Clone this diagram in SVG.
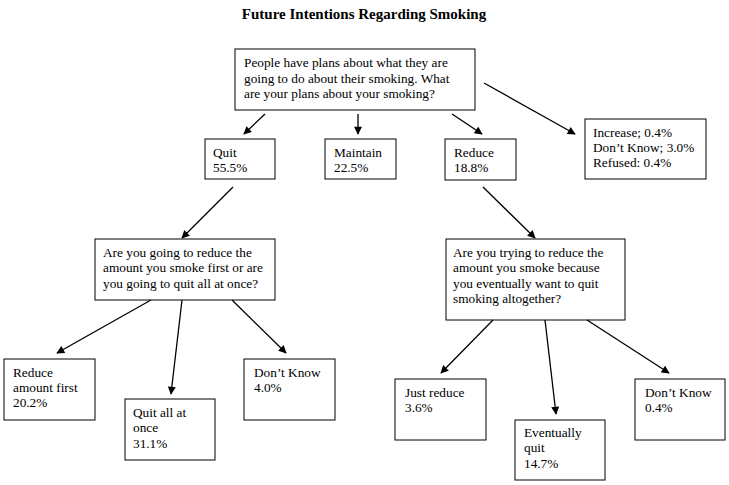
<svg xmlns="http://www.w3.org/2000/svg" width="729" height="485" viewBox="0 0 729 485">
<style>
text{font-family:"Liberation Serif",serif;font-size:13.3px;fill:#000}
.b{fill:#fff;stroke:#000;stroke-width:1}
.c line{stroke:#000;stroke-width:1.3;marker-end:url(#a)}
</style>
<defs><marker id="a" viewBox="0 0 10 10" refX="9" refY="5" markerWidth="9" markerHeight="8" orient="auto" markerUnits="userSpaceOnUse"><path d="M0,0L10,5L0,10z"/></marker></defs>
<rect width="729" height="485" fill="#fff"/>
<text x="364" y="19" text-anchor="middle" style="font-weight:bold;font-size:15px">Future Intentions Regarding Smoking</text>
<g id="q1"><rect class="b" x="235" y="49" width="240" height="61"/><text x="244" y="67">People have plans about what they are</text><text x="244" y="83">going to do about their smoking.  What</text><text x="244" y="98">are your plans about your smoking?</text></g>
<g id="quit"><rect class="b" x="205" y="139" width="70" height="40"/><text x="213" y="157">Quit</text><text x="213" y="172">55.5%</text></g>
<g id="maintain"><rect class="b" x="325" y="139" width="71" height="40"/><text x="334" y="157">Maintain</text><text x="334" y="172">22.5%</text></g>
<g id="reduce"><rect class="b" x="445" y="139" width="71" height="41"/><text x="454" y="157">Reduce</text><text x="454" y="172">18.8%</text></g>
<g id="other"><rect class="b" x="585" y="119" width="121" height="60"/><text x="593" y="137">Increase; 0.4%</text><text x="593" y="152">Don’t Know; 3.0%</text><text x="593" y="167">Refused: 0.4%</text></g>
<g id="q2"><rect class="b" x="95" y="239" width="180" height="61"/><text x="103" y="257">Are you going to reduce the</text><text x="103" y="272">amount you smoke first or are</text><text x="103" y="288">you going to quit all at once?</text></g>
<g id="q3"><rect class="b" x="446" y="239" width="179" height="81"/><text x="453" y="257">Are you trying to reduce the</text><text x="453" y="272">amount you smoke because</text><text x="453" y="288">you eventually want to quit</text><text x="453" y="303">smoking altogether?</text></g>
<g id="raf"><rect class="b" x="4" y="359" width="91" height="61"/><text x="13" y="377">Reduce</text><text x="13" y="392">amount first</text><text x="13" y="407">20.2%</text></g>
<g id="qao"><rect class="b" x="125" y="399" width="90" height="61"/><text x="133" y="417">Quit all at</text><text x="133" y="432">once</text><text x="133" y="448">31.1%</text></g>
<g id="dk1"><rect class="b" x="244" y="359" width="91" height="61"/><text x="254" y="377">Don’t Know</text><text x="254" y="392">4.0%</text></g>
<g id="jr"><rect class="b" x="395" y="379" width="91" height="61"/><text x="405" y="397">Just reduce</text><text x="405" y="412">3.6%</text></g>
<g id="eq"><rect class="b" x="515" y="420" width="90" height="60"/><text x="524" y="437">Eventually</text><text x="524" y="452">quit</text><text x="524" y="468">14.7%</text></g>
<g id="dk2"><rect class="b" x="635" y="379" width="90" height="61"/><text x="645" y="397">Don’t Know</text><text x="645" y="412">0.4%</text></g>
<g class="c" id="connectors">
<line x1="265" y1="114" x2="244" y2="134"/>
<line x1="358" y1="114" x2="358" y2="134"/>
<line x1="452" y1="114" x2="482" y2="134"/>
<line x1="484" y1="83" x2="575" y2="134"/>
<line x1="233" y1="187" x2="182" y2="238"/>
<line x1="483" y1="187" x2="535" y2="238"/>
<line x1="151" y1="300" x2="57" y2="353"/>
<line x1="182" y1="300" x2="171" y2="394"/>
<line x1="232" y1="300" x2="286" y2="353"/>
<line x1="493" y1="320" x2="441" y2="373"/>
<line x1="545" y1="320" x2="556" y2="414"/>
<line x1="587" y1="320" x2="669" y2="373"/>
</g>
</svg>
